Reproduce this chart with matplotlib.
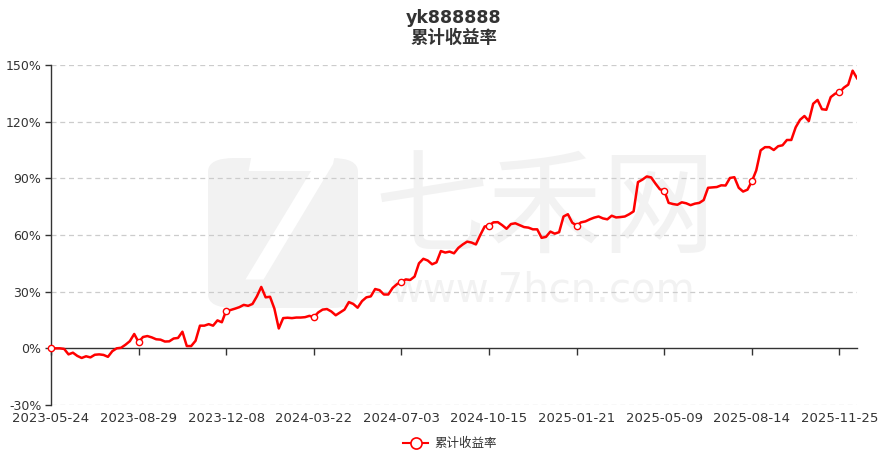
import numpy as np
import matplotlib
matplotlib.use("Agg")
import matplotlib.pyplot as plt
from matplotlib.patches import FancyBboxPatch
from matplotlib.lines import Line2D

plt.rcParams['font.family'] = ['DejaVu Sans', 'Noto Sans CJK SC']

title_main = "yk888888"
series_name = "累计收益率"

tick_labels = ["2023-05-24", "2023-08-29", "2023-12-08", "2024-03-22", "2024-07-03",
               "2024-10-15", "2025-01-21", "2025-05-09", "2025-08-14", "2025-11-25"]
tick_step = 20

values = [
    0, 0, 0, -0.3, -3.2, -2.3, -4, -5.1, -4.2, -4.8,
    -3.4, -3.2, -3.5, -4.5, -1.5, 0, 0.3, 1.9, 3.8, 7.6,
    3.3, 6, 6.5, 5.8, 4.8, 4.6, 3.6, 3.7, 5.2, 5.5,
    8.8, 1.2, 1.2, 4, 12, 12, 12.8, 12, 14.8, 13.8,
    20, 20.3, 21, 21.8, 23, 22.5, 23.5, 27.5, 32.5, 27,
    27.3, 21, 10.5, 16, 16.2, 16, 16.3, 16.3, 16.5, 17.2,
    16.5, 19, 20.5, 20.8, 19.5, 17.5, 19, 20.5, 24.5, 23.5,
    21.5, 25, 27, 27.5, 31.4, 30.8, 28.5, 28.5, 32, 34,
    35.3, 36.5, 36.2, 38, 45, 47.4, 46.5, 44.5, 45.5, 51.5,
    50.7, 51.2, 50.3, 53.2, 55, 56.5, 56, 55, 60, 64.5,
    65, 66.7, 66.8, 65.2, 63.3, 65.8, 66.2, 65.2, 64.2, 63.9,
    63, 63, 58.5, 59, 61.8, 60.7, 61.5, 69.8, 71, 66.5,
    65, 66.7, 67.2, 68.3, 69.2, 69.8, 68.8, 68.3, 70.2, 69.3,
    69.5, 69.8, 71, 72.5, 88, 89.3, 91, 90.5, 87.2, 84.2,
    83.5, 77, 76.4, 76, 77.3, 76.8, 75.8, 76.6, 77, 78.5,
    85, 85.2, 85.4, 86.3, 86.2, 90.2, 90.6, 85, 83, 84,
    88.4, 94.2, 104.8, 106.5, 106.5, 105, 107, 107.5, 110.3, 110.3,
    117, 121, 123, 120.3, 129.5, 131.5, 126.6, 126.3, 133, 134.8,
    135.5, 138, 139.6, 147, 143,
]

y_ticks = [-30, 0, 30, 60, 90, 120, 150]

W, H = 886, 457
fig = plt.figure(figsize=(W / 100, H / 100), dpi=100)
left, right, top, bottom = 51, 857, 65, 405
ax = fig.add_axes([left / W, 1 - bottom / H, (right - left) / W, (bottom - top) / H])
ax.set_zorder(2)

x = np.arange(len(values))
tick_pos = np.arange(len(tick_labels)) * tick_step

# watermark (behind the axes)
wm = '#f2f2f2'
logo = FancyBboxPatch((208 / W, 1 - 308 / H), 150 / W, 150 / H,
                      boxstyle="round,pad=0,rounding_size=0.03",
                      transform=fig.transFigure, facecolor=wm, edgecolor='none', zorder=0)
fig.patches.append(logo)
fig.text(283 / W, 1 - 232 / H, "7", fontsize=120, fontstyle='italic',
         color='white', ha='center', va='center', zorder=0.5)
fig.text(545 / W, 1 - 212 / H, "七禾网", fontsize=82, color=wm, ha='center', va='center',
         family=['Noto Sans CJK SC'], zorder=0.5)
fig.text(543 / W, 1 - 291 / H, "www.7hcn.com", fontsize=29, color=wm, ha='center', va='center',
         zorder=0.5)

ax.patch.set_alpha(0)
ax.set_xlim(0, len(values) - 1)
ax.set_ylim(-30, 150)

for yv in y_ticks:
    if yv != 0:
        ax.axhline(yv, color='#cccccc', lw=0.9, ls=(0, (4, 3)), zorder=1)

ax.plot(x, values, color='#ff0000', lw=1.8, zorder=3, solid_joinstyle='round')
ax.plot(tick_pos, [values[i] for i in tick_pos], ls='none', marker='o', ms=4.5,
        mfc='white', mec='#ff0000', mew=1.0, zorder=4, clip_on=False)

for s in ['top', 'right']:
    ax.spines[s].set_visible(False)
ax.spines['left'].set_color('#333333')
ax.spines['left'].set_linewidth(1.0)
ax.spines['bottom'].set_position(('data', 0))
ax.spines['bottom'].set_color('#333333')
ax.spines['bottom'].set_linewidth(1.0)

ax.set_yticks(y_ticks)
ax.set_yticklabels([f"{v}%" for v in y_ticks], fontsize=9, color='#333333')
ax.tick_params(axis='y', length=4, width=1, color='#333333', pad=3)

ax.set_xticks(tick_pos)
ax.set_xticklabels([])
ax.tick_params(axis='x', length=5, width=1, color='#333333', direction='out')

sec = ax.secondary_xaxis('bottom')
sec.set_xticks(tick_pos)
sec.set_xticklabels(tick_labels, fontsize=9.5, color='#333333')
sec.tick_params(axis='x', length=0, pad=5)
sec.spines['bottom'].set_visible(False)

cx = ((left + right) / 2) / W
fig.text(cx, 1 - 18 / H, title_main, fontsize=12.5, fontweight='bold', color='#333333',
         ha='center', va='center')
fig.text(cx, 1 - 38 / H, series_name, fontsize=12.5, fontweight='bold', color='#333333',
         ha='center', va='center')

# legend
h = Line2D([0], [0], color='#ff0000', lw=1.5, marker='o', ms=8, mfc='white', mec='#ff0000', mew=1.2)
fig.legend([h], [series_name], loc='center', bbox_to_anchor=(450 / W, 1 - 444 / H),
           frameon=False, fontsize=9, handlelength=2.0, handletextpad=0.5,
           labelcolor='#333333')

fig.savefig("out.png", dpi=100)
